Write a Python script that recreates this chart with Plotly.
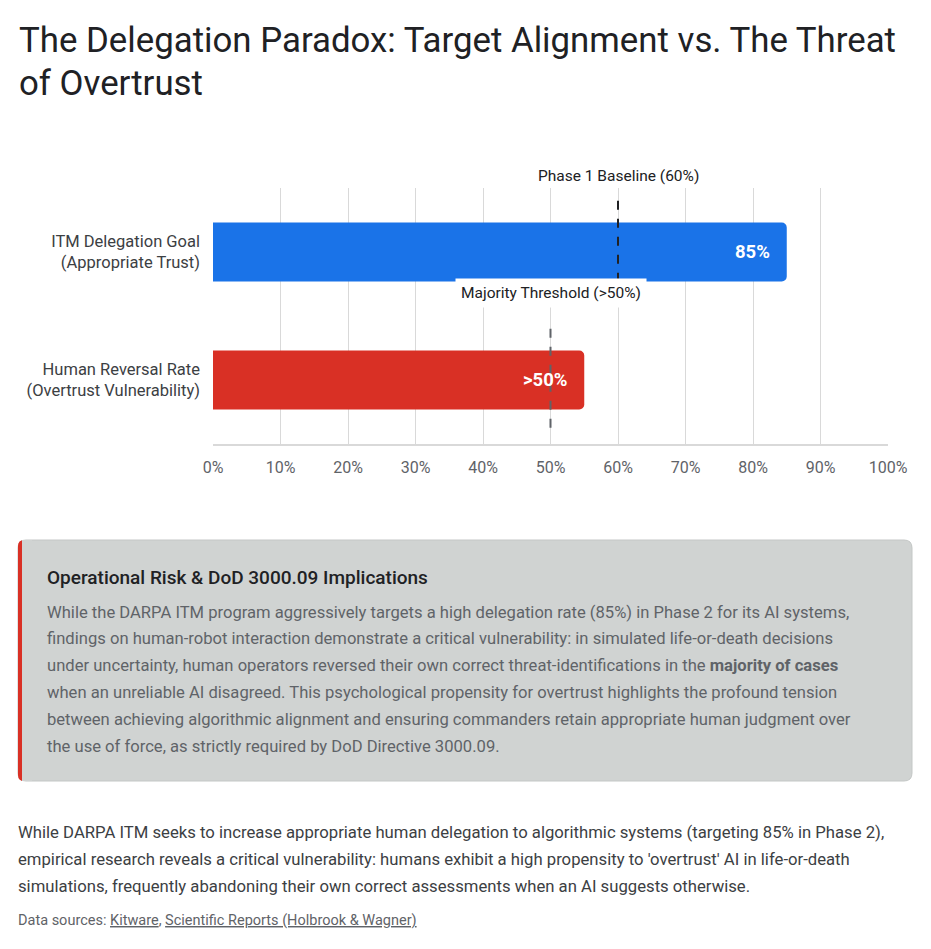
import plotly.graph_objects as go

W, H = 931, 949
OFF = 8  # page body margin
L, R, T, B = 205, 51, 180, 513

categories = ["ITM Delegation Goal<br>(Appropriate Trust)",
              "Human Reversal Rate<br>(Overtrust Vulnerability)"]
values = [85, 55]
bar_labels = ["85%", ">50%"]
bar_colors = ["#1a73e8", "#d93025"]

baseline_value = 60
baseline_label = "Phase 1 Baseline (60%)"
majority_value = 50
majority_label = "Majority Threshold (>50%)"

x_ticks = list(range(0, 101, 10))
x_tick_text = [f"{t}%" for t in x_ticks]

title_lines = ["The Delegation Paradox: Target Alignment vs. The Threat",
               "of Overtrust"]
box_heading = "Operational Risk & DoD 3000.09 Implications"
box_lines = [
    "While the DARPA ITM program aggressively targets a high delegation rate (85%) in Phase 2 for its AI systems,",
    "findings on human-robot interaction demonstrate a critical vulnerability: in simulated life-or-death decisions",
    "under uncertainty, human operators reversed their own correct threat-identifications in the <b>majority of cases</b>",
    "when an unreliable AI disagreed. This psychological propensity for overtrust highlights the profound tension",
    "between achieving algorithmic alignment and ensuring commanders retain appropriate human judgment over",
    "the use of force, as strictly required by DoD Directive 3000.09.",
]
footer_lines = [
    "While DARPA ITM seeks to increase appropriate human delegation to algorithmic systems (targeting 85% in Phase 2),",
    "empirical research reveals a critical vulnerability: humans exhibit a high propensity to 'overtrust' AI in life-or-death",
    "simulations, frequently abandoning their own correct assessments when an AI suggests otherwise.",
]
sources = "Data sources: <u>Kitware</u>, <u>Scientific Reports (Holbrook & Wagner)</u>"

FONT = "Roboto"
PW, PH = W - L - R, H - T - B


def px(x):
    return (x - OFF - L) / PW


def py(y):
    return (H - B - (y - OFF)) / PH


def text_ann(x, y, text, size, color, anchor="left", weight=None):
    font = dict(family=FONT, size=size, color=color)
    if weight:
        font["weight"] = weight
    return dict(x=px(x), y=py(y), xref="paper", yref="paper", text=text,
                showarrow=False, xanchor=anchor, yanchor="middle",
                align=anchor, font=font)


def rounded_rect(x0, y0, x1, y1, r):
    rx, ry = r / PW, r / PH
    a, b, c, d = px(x0), py(y1), px(x1), py(y0)
    return (f"M{a + rx},{b} L{c - rx},{b} Q{c},{b} {c},{b + ry} "
            f"L{c},{d - ry} Q{c},{d} {c - rx},{d} L{a + rx},{d} "
            f"Q{a},{d} {a},{d - ry} L{a},{b + ry} Q{a},{b} {a + rx},{b} Z")


fig = go.Figure()
fig.add_trace(go.Bar(
    x=values, y=categories, orientation="h",
    marker=dict(color=bar_colors, cornerradius=5, line=dict(width=0)),
    width=0.46, hoverinfo="skip",
))

shapes = [
    dict(type="line", xref="x", yref="y", x0=baseline_value, x1=baseline_value,
         y0=-0.4, y1=0.4, line=dict(color="#202124", width=2, dash="dash"), layer="above"),
    dict(type="line", xref="x", yref="y", x0=majority_value, x1=majority_value,
         y0=0.6, y1=1.4, line=dict(color="#5f6368", width=2, dash="dash"), layer="above"),
    # insight box
    dict(type="path", xref="paper", yref="paper", path=rounded_rect(18, 540, 912, 781, 8),
         fillcolor="#d0d3d2", line=dict(width=1, color="#c4c7c6"), layer="below"),
    dict(type="path", xref="paper", yref="paper", path=rounded_rect(18, 540, 30, 781, 6),
         fillcolor="#d93025", line=dict(width=0), layer="below"),
    dict(type="rect", xref="paper", yref="paper", x0=px(22), x1=px(32), y0=py(781), y1=py(540),
         fillcolor="#d0d3d2", line=dict(width=0), layer="below"),
]

annotations = []
for v, lab, cat in zip(values, bar_labels, categories):
    annotations.append(dict(x=v, y=cat, xref="x", yref="y", text=lab, showarrow=False,
                            xanchor="right", xshift=-15,
                            font=dict(family=FONT, size=18.5, color="white", weight="bold")))
annotations.append(dict(x=baseline_value, y=py(176), xref="x", yref="paper",
                        text=baseline_label, showarrow=False, yanchor="middle",
                        font=dict(family=FONT, size=15.5, color="#202124")))
annotations.append(dict(x=majority_value, y=py(293), xref="x", yref="paper",
                        text=majority_label, showarrow=False, yanchor="middle",
                        bgcolor="white", borderpad=5,
                        font=dict(family=FONT, size=15.5, color="#202124")))

annotations.append(text_ann(17, 40, title_lines[0], 34.8, "#202124"))
annotations.append(text_ann(17, 83, title_lines[1], 34.8, "#202124"))
annotations.append(text_ann(45, 577, box_heading, 19, "#202124", weight=500))
for i, line in enumerate(box_lines):
    annotations.append(text_ann(45, 612 + i * 26.8, line, 16.6, "#5f6368"))
for i, line in enumerate(footer_lines):
    annotations.append(text_ann(16, 832 + i * 27, line, 16.7, "#3c4043"))
annotations.append(text_ann(16, 920, sources, 14.5, "#5f6368"))

fig.update_layout(
    width=W, height=H,
    margin=dict(l=L, r=R, t=T, b=B, pad=0),
    paper_bgcolor="white", plot_bgcolor="white",
    showlegend=False,
    shapes=shapes, annotations=annotations,
    font=dict(family=FONT),
    xaxis=dict(range=[0, 100], tickvals=x_ticks, ticktext=x_tick_text,
               showgrid=True, gridcolor="#d9d9d9", gridwidth=1,
               zeroline=False, showline=True, linecolor="#d9d9d9", linewidth=2,
               ticks="", ticklabelstandoff=8,
               tickfont=dict(family=FONT, size=16, color="#5f6368"), fixedrange=True),
    yaxis=dict(autorange=False, range=[1.5, -0.5], showgrid=False, zeroline=False,
               showline=False, ticks="", ticklabelstandoff=12,
               tickfont=dict(family=FONT, size=16.5, color="#3c4043"), fixedrange=True),
)

fig.write_html("out.html")
